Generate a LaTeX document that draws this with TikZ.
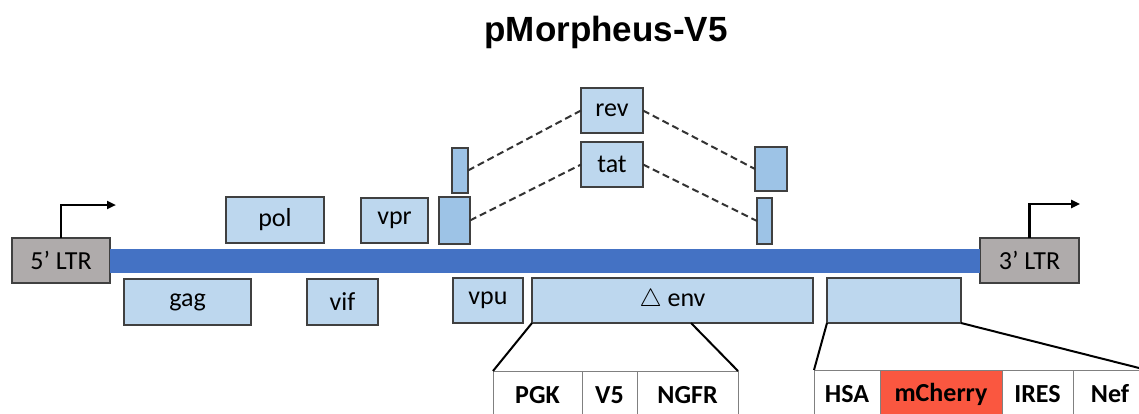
\documentclass[tikz,border=0pt]{standalone}
\usepackage{fontspec}
\setmainfont{Carlito}
\newfontfamily\titlefont{Liberation Sans}
\usetikzlibrary{positioning,arrows.meta}

\definecolor{genefill}{HTML}{BDD7EE}
\definecolor{exonfill}{HTML}{9DC3E6}
\definecolor{ltrfill}{HTML}{AFABAB}
\definecolor{barblue}{HTML}{4472C4}
\definecolor{cherry}{HTML}{FA5740}
\definecolor{edgegray}{HTML}{404040}

\tikzset{
  gene/.style={draw=edgegray, fill=genefill, line width=1.4pt, inner sep=0pt, outer sep=0pt,
    font=\fontsize{26}{30}\selectfont},
  exon/.style={gene, fill=exonfill},
  ltr/.style={gene, fill=ltrfill},
  cell/.style={draw=gray, fill=white, line width=1pt, inner sep=0pt, outer sep=0pt,
    minimum height=48pt, font=\fontsize{26}{30}\selectfont\bfseries},
  splice/.style={dashed, dash pattern=on 7pt off 4pt, line width=2pt, black!80},
  zoomline/.style={line width=2pt, black},
  promoter/.style={line width=2.5pt, -{Triangle[length=9pt,width=8pt]}}
}

\begin{document}
\begin{tikzpicture}[x=1pt,y=-1pt]
        \useasboundingbox (0,0) rectangle (1139,414);
        \clip (0,0) rectangle (1139,414);

        \node[anchor=base, font=\titlefont\fontsize{35}{40}\selectfont\bfseries] (title) at (606,42) {pMorpheus-V5};

        % LTRs and backbone
        \node[ltr, minimum width=98pt, minimum height=45pt] (ltr5) at (61,260.5) {5’ LTR};
        \node[ltr, minimum width=99pt, minimum height=45pt] (ltr3) at (1029.5,260.5) {3’ LTR};
        \draw[barblue, line width=24pt] (ltr5.east) -- (ltr3.west);

        \coordinate (tip5) at (116,205);
        \coordinate (tip3) at (1080,204);
        \draw[promoter] (ltr5.north) |- (tip5);
        \draw[promoter] (ltr3.north) |- (tip3);

        % genes above
        \node[gene, minimum width=98pt, minimum height=46pt] (pol) at (275,220) {pol};
        \node[gene, minimum width=67pt, minimum height=45pt] (vpr) at (394.5,220.5) {vpr};
        \node[exon, minimum width=31pt, minimum height=47pt] (tat1) at (454.5,220.5) {};
        \node[exon, minimum width=16pt, minimum height=45pt] (rev1) at (460,170.5) {};
        \node[gene, minimum width=62pt, minimum height=45pt] (rev) at (612,110.5) {rev};
        \node[gene, minimum width=62pt, minimum height=45pt] (tat) at (612,164.5) {tat};
        \node[exon, minimum width=32pt, minimum height=44pt] (rev2) at (771,169) {};
        \node[exon, minimum width=15pt, minimum height=46pt] (tat2) at (764.5,221) {};

        \draw[splice] (rev1.east) -- (rev.west);
        \draw[splice] (rev.east) -- (rev2.west);
        \draw[splice] (tat1.east) -- (tat.west);
        \draw[splice] (tat.east) -- (tat2.west);

        % genes below
        \node[gene, minimum width=127pt, minimum height=46pt] (gag) at (187.5,302) {gag};
        \node[gene, minimum width=71pt, minimum height=46pt] (vif) at (342.5,302) {vif};
        \node[gene, minimum width=70pt, minimum height=45pt] (vpu) at (488,300.5) {vpu};
        \node[gene, minimum width=281pt, minimum height=45pt] (env) at (672.5,300.5) {$\triangle$\ env};
        \node[gene, minimum width=134pt, minimum height=45pt] (nefslot) at (894,300.5) {};

        % cassettes
        \node[cell, minimum width=89pt] (pgk) at (537.5,395) {PGK};
        \node[cell, minimum width=55pt, right=0pt of pgk] (v5) {V5};
        \node[cell, minimum width=101pt, right=0pt of v5] (ngfr) {NGFR};

        \node[cell, minimum width=66pt] (hsa) at (847,394) {HSA};
        \node[cell, minimum width=122pt, fill=cherry, right=0pt of hsa] (mcherry) {mCherry};
        \node[cell, minimum width=71pt, right=0pt of mcherry] (ires) {IRES};
        \node[cell, minimum width=74pt, right=0pt of ires] (nef) {Nef};

        \coordinate (envcut) at (691,323);
        \draw[zoomline] (env.south west) -- (pgk.north west);
        \draw[zoomline] (envcut) -- (ngfr.north east);
        \draw[zoomline] (nefslot.south west) -- (hsa.north west);
        \draw[zoomline] (nefslot.south east) -- (nef.north east);
\end{tikzpicture}
\end{document}
